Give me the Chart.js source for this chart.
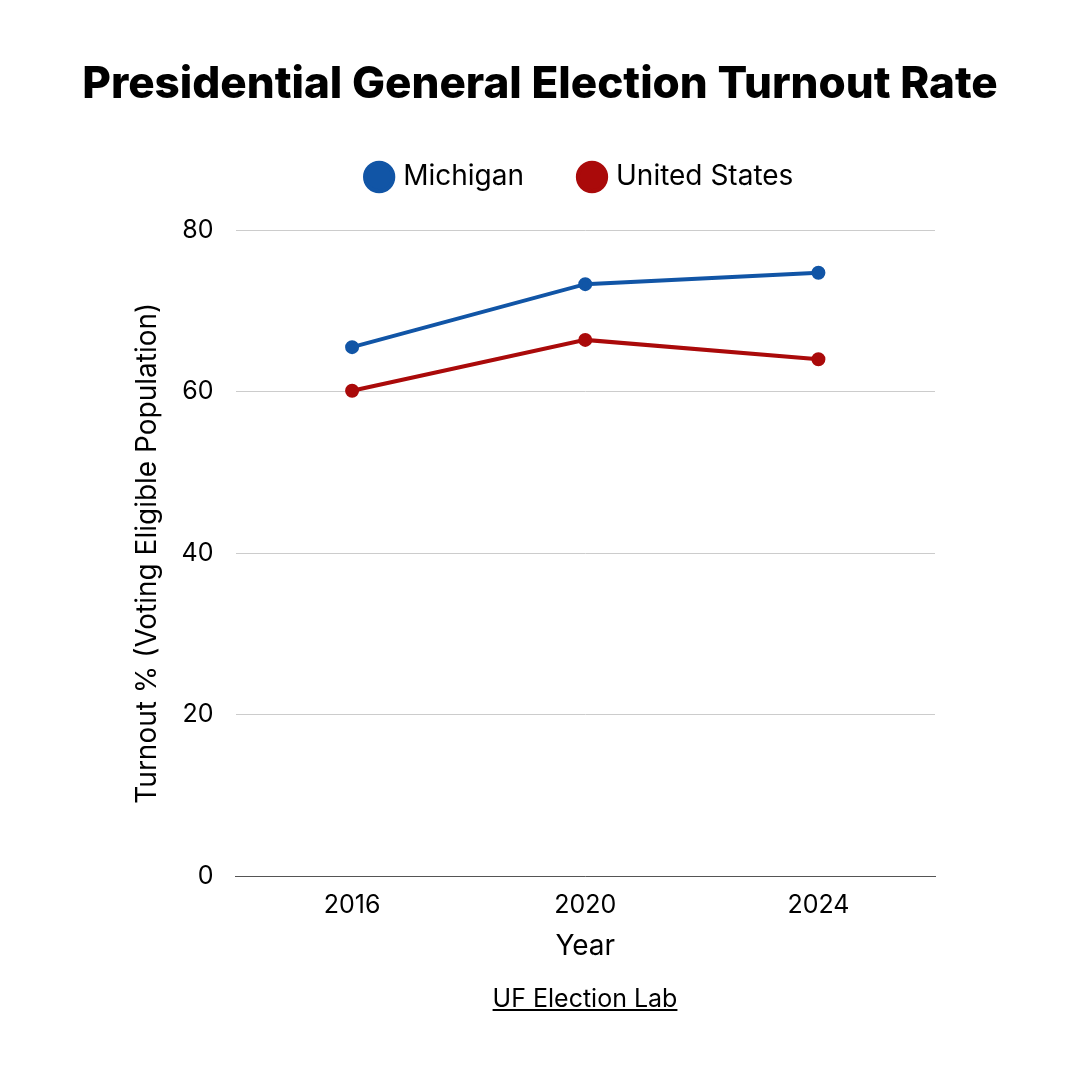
<!DOCTYPE html>
<html>
<head>
<meta charset="utf-8">
<script src="https://cdn.jsdelivr.net/npm/chart.js@4"></script>
<style>
  html, body { margin: 0; padding: 0; background: #fff; }
  #wrap { position: relative; width: 1080px; height: 1080px; }
  #title {
    position: absolute; left: 0; width: 1080px; top: 55px; line-height: 54px;
    text-align: center; font-family: Inter, sans-serif; font-size: 44px;
    font-weight: 800; color: #000; white-space: nowrap;
  }
  #source {
    position: absolute; left: 45px; width: 1080px; top: 983px; line-height: 30px;
    text-align: center; font-family: Inter, sans-serif; font-size: 25px;
    color: #000; text-decoration: underline;
  }
</style>
</head>
<body>
<div id="wrap">
  <canvas id="chart" width="1080" height="1080"></canvas>
  <div id="title">Presidential General Election Turnout Rate</div>
  <div id="source">UF Election Lab</div>
</div>
<script>
const years = ["2016", "2020", "2024"];
const michigan = [65.5, 73.3, 74.7];
const unitedStates = [60.1, 66.4, 64.0];
const yTicks = [0, 20, 40, 60, 80];

const font = "Inter, 'Open Sans', sans-serif";

// extra room under the legend, and legend centred over the plot
const legendPlace = {
  id: "legendPlace",
  beforeInit(chart) {
    const fit = chart.legend.fit;
    chart.legend.fit = function () {
      fit.call(this);
      this.height += 29;
    };
  },
  afterLayout(chart) {
    const lg = chart.legend;
    const a = chart.chartArea;
    const shift = (a.left + a.right) / 2 - (lg.left + lg.right) / 2 - 4;
    lg.left += shift;
    lg.right += shift;
  },
};

new Chart(document.getElementById("chart"), {
  type: "line",
  data: {
    labels: years,
    datasets: [
      {
        label: "Michigan",
        data: michigan,
        borderColor: "#1155a6",
        backgroundColor: "#1155a6",
        borderWidth: 4,
        pointRadius: 5,
        pointHoverRadius: 5,
      },
      {
        label: "United States",
        data: unitedStates,
        borderColor: "#aa0a0a",
        backgroundColor: "#aa0a0a",
        borderWidth: 4,
        pointRadius: 5,
        pointHoverRadius: 5,
      },
    ],
  },
  options: {
    responsive: false,
    animation: false,
    layout: { padding: { top: 105, left: 127, right: 145, bottom: 113 } },
    plugins: {
      title: { display: false },
      legend: {
        labels: {
          usePointStyle: true,
          pointStyle: "circle",
          boxWidth: 20,
          boxHeight: 20,
          color: "#000",
          font: { family: font, size: 28 },
          padding: 58,
        },
      },
      tooltip: { enabled: false },
    },
    scales: {
      x: {
        offset: true,
        grid: { display: false },
        border: { display: true, color: "#555", width: 1 },
        ticks: { color: "#000", font: { family: font, size: 25 }, padding: 6 },
        title: {
          display: true,
          text: "Year",
          color: "#000",
          font: { family: font, size: 28 },
          padding: { top: 3, bottom: 4 },
        },
      },
      y: {
        min: 0,
        max: 80,
        afterBuildTicks: (axis) => {
          axis.ticks = yTicks.map((v) => ({ value: v }));
        },
        grid: { color: "#cccccc", drawTicks: false },
        border: { display: false },
        ticks: { color: "#000", font: { family: font, size: 25 }, padding: 22 },
        title: {
          display: true,
          text: "Turnout % (Voting Eligible Population)",
          color: "#000",
          font: { family: font, size: 28 },
          padding: { top: 4, bottom: -5 },
        },
      },
    },
  },
  plugins: [legendPlace],
});
</script>
</body>
</html>
